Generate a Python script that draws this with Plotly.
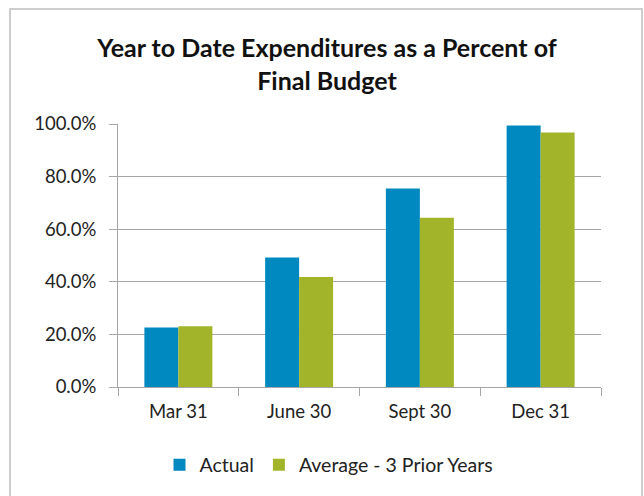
import plotly.graph_objects as go

categories = ["Mar 31", "June 30", "Sept 30", "Dec 31"]
actual = [0.226, 0.492, 0.755, 0.994]
average_prior = [0.231, 0.418, 0.644, 0.968]
series_names = ["Actual", "Average - 3 Prior Years"]
y_ticks = [0, 0.2, 0.4, 0.6, 0.8, 1.0]

FONT = "Lato"
W, H = 644, 496
L, R, T, B = 118, 43, 124, 109
pw, ph = W - L - R, H - T - B

fig = go.Figure()
fig.add_trace(go.Bar(x=categories, y=actual, name=series_names[0],
                     marker=dict(color="#0089C0", line=dict(width=0))))
fig.add_trace(go.Bar(x=categories, y=average_prior, name=series_names[1],
                     marker=dict(color="#A2B52A", line=dict(width=0))))

fig.update_layout(
    width=W, height=H,
    margin=dict(l=L, r=R, t=T, b=B, pad=0, autoexpand=False),
    paper_bgcolor="white", plot_bgcolor="white",
    barmode="group", bargap=0.437, bargroupgap=0,
    font=dict(family=FONT, color="#222222", size=18.5),
    title=dict(text="<b>Year to Date Expenditures as a Percent of<br>Final Budget</b>",
               x=(327 - L) / pw, xref="paper", xanchor="center",
               y=1 - 57 / H, yanchor="middle", yref="container",
               font=dict(family=FONT, size=25, color="#111111")),
    legend=dict(orientation="h", x=(329 - L) / pw, xanchor="center",
                y=-(465 - (T + ph)) / ph, yanchor="middle",
                font=dict(size=19.5), itemwidth=30, traceorder="normal"),
    showlegend=True,
)
fig.update_yaxes(range=[0, 1.0], tickvals=y_ticks, tickformat=".1%",
                 showgrid=True, gridcolor="#A6A6A6", gridwidth=1,
                 showline=True, linecolor="#A6A6A6", linewidth=1,
                 ticks="outside", ticklen=8, tickcolor="#A6A6A6",
                 ticklabelstandoff=9, zeroline=False,
                 tickfont=dict(size=18.5, family=FONT, color="#222222"))
fig.update_xaxes(showline=True, linecolor="#A6A6A6", linewidth=1,
                 ticks="outside", ticklen=8, tickcolor="#A6A6A6",
                 tickson="boundaries", showgrid=False, ticklabelstandoff=8,
                 tickfont=dict(size=18.5, family=FONT, color="#222222"))

# outer chart border
fig.add_shape(type="rect", xref="paper", yref="paper",
              x0=(10 - L) / pw, x1=(642 - L) / pw,
              y0=-(520 - T - ph) / ph, y1=1 + (T - 9) / ph,
              line=dict(color="#BFBFBF", width=1.5), fillcolor="rgba(0,0,0,0)",
              layer="below")

fig.write_html("out.html", config={"displayModeBar": False},
               post_script="document.body.style.margin='0';document.body.style.overflow='hidden';")
